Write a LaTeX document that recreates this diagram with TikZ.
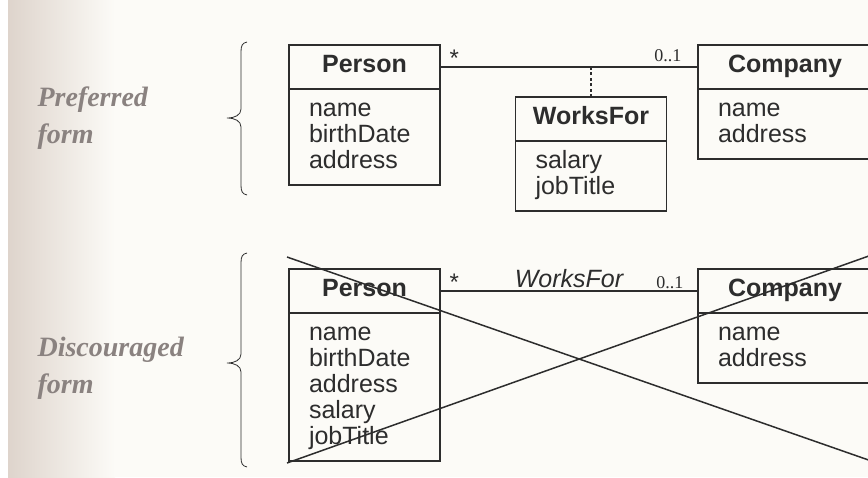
\documentclass[tikz,border=0pt]{standalone}
\usepackage{fontspec}
\usepackage{tikz}
\usetikzlibrary{positioning,calc}
\newfontfamily\umlfont{Liberation Sans}
\newfontfamily\formfont{Liberation Serif}
\newcommand\umlsize{\fontsize{25}{26}\selectfont}
\definecolor{paper}{RGB}{252,251,247}
\definecolor{gutter}{RGB}{222,212,204}
\definecolor{ink}{RGB}{45,45,45}
\definecolor{smudge}{RGB}{138,130,128}

\begin{document}
\begin{tikzpicture}[x=1pt, y=-1pt, line width=1.1pt, color=ink,
  uml/.style={draw, outer sep=0pt, font=\umlfont\umlsize, inner ysep=9pt,
    execute at begin node=\strut, execute at end node=\strut},
  cls/.style={uml, font=\umlfont\bfseries\umlsize, minimum width=#1},
  attrs/.style={uml, align=left, inner xsep=20pt, text width=#1},
  mult/.style={inner sep=0pt, font=\umlfont\fontsize{24}{26}\selectfont},
  bound/.style={inner sep=0pt, font=\formfont\fontsize{18}{20}\selectfont},
  assoc/.style={inner sep=0pt, font=\umlfont\itshape\umlsize},
  formlabel/.style={anchor=west, align=left, inner sep=0pt, text=smudge,
    font=\formfont\bfseries\itshape\fontsize{28}{37}\selectfont},
  curly/.style={line width=0.8pt},
  strike/.style={line width=1.5pt}]
  \useasboundingbox (0,0) rectangle (868,477);
  \clip (0,0) rectangle (868,477);
  % page with its gutter shadow
  \fill[paper] (0,0) rectangle (868,477);
  \fill[white] (0,0) rectangle (8,477);
  \shade[left color=gutter, right color=paper] (8,0) rectangle (115,477);
  % margin labels and braces
  \node[formlabel] (preferred) at (37,118) {Preferred\\form};
  \node[formlabel] (discouraged) at (37,368) {Discouraged\\form};
  \draw[curly] (247,42) .. controls (242,43) and (241,46) .. (241,52) -- (241,109)
    .. controls (241,115) and (235,118) .. (227,118) .. controls (235,118) and (241,121) .. (241,127)
    -- (241,185) .. controls (241,191) and (242,194) .. (247,195);
  \draw[curly] (247,253) .. controls (242,254) and (241,257) .. (241,263) -- (241,354)
    .. controls (241,360) and (235,363) .. (227,363) .. controls (235,363) and (241,366) .. (241,372)
    -- (241,457) .. controls (241,463) and (242,466) .. (247,467);
  % preferred form: link attributes in an association class
  \node[cls=151pt, anchor=north west] (personA) at (289,45) {Person};
  \node[attrs=111pt, below=0pt of personA] (personAattr) {name\\birthDate\\address};
  \node[cls=174pt, right=258pt of personA] (companyA) {Company};
  \node[attrs=134pt, below=0pt of companyA] (companyAattr) {name\\address};
  \node[cls=151pt, anchor=north] (worksforA) at (591,97) {WorksFor};
  \node[attrs=111pt, below=0pt of worksforA] (worksforAattr) {salary\\jobTitle};
  \draw (personA.east) -- (companyA.west);
  \node[mult, above right=0pt and 9pt of personA.east] (manyA) {*};
  \node[bound, above left=5pt and 16pt of companyA.west] (oneA) {0..1};
  \draw[dash pattern=on 3pt off 2.5pt] (worksforA.north) -- (worksforA.north |- personA.east);
  % discouraged form: link attributes folded into the class
  \node[cls=151pt, below=84pt of personAattr] (personB) {Person};
  \node[attrs=111pt, below=0pt of personB] (personBattr) {name\\birthDate\\address\\salary\\jobTitle};
  \node[cls=174pt, right=258pt of personB] (companyB) {Company};
  \node[attrs=134pt, below=0pt of companyB] (companyBattr) {name\\address};
  \draw (personB.east) -- (companyB.west) node[midway, above=3pt, assoc] (linkB) {WorksFor};
  \node[mult, above right=0pt and 9pt of personB.east] (manyB) {*};
  \node[bound, above left=2pt and 14pt of companyB.west] (oneB) {0..1};
  \draw[strike] (287,257) -- (880,464);
  \draw[strike] (287,463) -- (880,252);
\end{tikzpicture}
\end{document}
